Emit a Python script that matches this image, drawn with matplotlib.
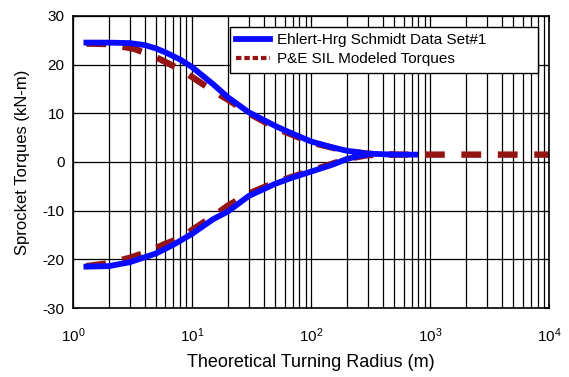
import matplotlib
matplotlib.use('Agg')
import matplotlib.pyplot as plt
from matplotlib.ticker import LogLocator, NullFormatter

plt.rcParams['font.family'] = ['Liberation Sans', 'DejaVu Sans']
plt.rcParams['axes.unicode_minus'] = False

# measured data (Ehlert-Hrg Schmidt)
meas_up_x = [1.3, 2, 3, 4, 5, 6, 8, 10, 15, 20, 30, 50, 70, 100, 150, 200, 300, 500, 750]
meas_up_y = [24.5, 24.5, 24.4, 24.0, 23.3, 22.5, 21.0, 19.5, 16.0, 13.3, 10.2, 7.4, 5.8, 4.2, 3.0, 2.3, 1.7, 1.5, 1.5]
meas_lo_x = [1.3, 2, 3, 5, 7, 10, 15, 20, 30, 50, 70, 100, 150, 200, 250, 300]
meas_lo_y = [-21.5, -21.4, -20.6, -18.8, -17.0, -14.8, -11.8, -10.2, -7.0, -4.5, -3.2, -2.0, -0.6, 0.6, 1.2, 1.5]

# modeled torques (P&E SIL)
mod_up_x = [1.3, 2, 3.3, 5, 8.4, 15, 20, 30, 50, 100, 200, 300, 500, 1000, 10000]
mod_up_y = [24.3, 24.2, 23.2, 21.5, 18.7, 14.6, 12.8, 10.0, 7.0, 4.0, 2.2, 1.7, 1.5, 1.5, 1.5]
mod_lo_x = [1.3, 2, 3, 4.2, 6, 7.7, 10, 16, 20, 30, 50, 100, 200, 300, 500]
mod_lo_y = [-21.4, -20.8, -19.7, -18.5, -16.8, -15.8, -14.0, -10.7, -9.0, -6.5, -4.2, -1.8, 0.6, 1.4, 1.5]

fig = plt.figure(figsize=(5.69, 3.77), dpi=100)
ax = fig.add_axes([0.128, 0.183, 0.837, 0.775])

blue = '#0a0aff'
red = '#941414'
ax.plot(meas_up_x, meas_up_y, color=blue, lw=4.2, zorder=3, label='Ehlert-Hrg Schmidt Data Set#1')
ax.plot(meas_lo_x, meas_lo_y, color=blue, lw=4.2, zorder=3)
ax.plot(mod_up_x, mod_up_y, color=red, lw=4.6, dashes=(3.1, 2.6), zorder=2, label='P&E SIL Modeled Torques')
ax.plot(mod_lo_x, mod_lo_y, color=red, lw=4.6, dashes=(3.1, 2.6), zorder=2)

ax.set_xscale('log')
ax.set_xlim(1, 1e4)
ax.set_ylim(-30, 30)
ax.set_yticks([-30, -20, -10, 0, 10, 20, 30])
ax.xaxis.set_major_locator(LogLocator(base=10, numticks=10))
ax.xaxis.set_minor_locator(LogLocator(base=10, subs=range(2, 10), numticks=20))
ax.xaxis.set_minor_formatter(NullFormatter())
ax.grid(True, which='major', color='black', lw=0.9)
ax.grid(True, which='minor', axis='x', color='black', lw=0.9)
ax.tick_params(which='both', direction='in', top=True, right=True, labelsize=11)
ax.tick_params(axis='x', pad=13)
ax.tick_params(axis='y', pad=6)
for s in ax.spines.values():
    s.set_linewidth(1.2)

ax.set_xlabel('Theoretical Turning Radius (m)', fontsize=13, labelpad=7)
ax.set_ylabel('Sprocket Torques (kN-m)', fontsize=12, labelpad=9)

leg = ax.legend(loc='upper left', bbox_to_anchor=(0.330, 0.805, 0.647, 0.157),
                mode='expand', borderaxespad=0, fontsize=11, fancybox=False,
                framealpha=1, edgecolor='black', handlelength=2.2,
                handletextpad=0.45, labelspacing=0.35, borderpad=0.4)
leg.get_frame().set_linewidth(1.0)
hl = leg.get_lines()
hl[1].set_linewidth(3.0)
hl[1].set_dashes((1.3, 0.7))

fig.savefig('out.png', dpi=100)
